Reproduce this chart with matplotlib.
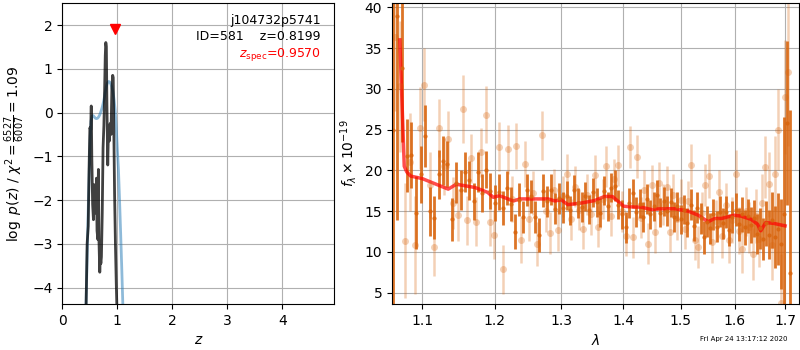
import numpy as np
import matplotlib
matplotlib.use("Agg")
import matplotlib.pyplot as plt
from matplotlib.ticker import FixedLocator, FixedFormatter, NullLocator

# --- p(z) panel ---
z_grid = [0.43, 0.45, 0.47, 0.485, 0.50, 0.515, 0.525, 0.535, 0.55, 0.565, 0.58, 0.595,
          0.61, 0.62, 0.63, 0.645, 0.655, 0.665, 0.68, 0.69, 0.70, 0.71, 0.725, 0.74,
          0.755, 0.765, 0.78, 0.79, 0.80, 0.81, 0.825, 0.84, 0.855, 0.87, 0.885, 0.90,
          0.915, 0.925, 0.935, 0.95, 0.965, 0.98, 0.995]
logpz = [-4.5, -3.0, -2.6, -1.3, -0.35, -0.4, 0.15, -1.0, -2.1, -2.45, -1.65, -1.9,
         -2.3, -1.5, -2.7, -2.9, -1.3, -2.9, -3.65, -3.3, -3.45, -3.3, -2.3, -0.8,
         -0.3, 0.3, 1.3, 1.6, 1.5, 0.2, -1.2, -0.3, -0.65, -0.25, -0.5, 0.55,
         0.85, 0.8, -0.3, -1.9, -3.0, -3.9, -4.6]

z_smooth = [0.43, 0.45, 0.474, 0.49, 0.505, 0.52, 0.54, 0.56, 0.58, 0.60, 0.62, 0.64,
            0.66, 0.68, 0.70, 0.72, 0.74, 0.76, 0.78, 0.80, 0.82, 0.84, 0.86, 0.88,
            0.90, 0.92, 0.94, 0.96, 0.98, 1.00, 1.02, 1.04, 1.06, 1.08, 1.10]
logpz_smooth = [-4.4, -3.3, -2.0, -1.3, -0.6, -0.2, -0.08, -0.07, -0.1, -0.13, -0.14, -0.13,
                -0.1, -0.05, 0.02, 0.1, 0.2, 0.32, 0.47, 0.6, 0.68, 0.71, 0.7, 0.66,
                0.58, 0.47, 0.3, 0.06, -0.35, -0.85, -1.3, -2.0, -2.76, -3.55, -4.4]

z_spec = 0.9570
z_phot = 0.8199
obj_root = "j104732p5741"
obj_id = 581
chi2_num, chi2_den = 6527, 6007

# --- spectrum panel ---
wave_dark = [1.062, 1.068, 1.074, 1.080, 1.086, 1.092, 1.098, 1.104, 1.110, 1.116, 1.122,
             1.128, 1.134, 1.140, 1.146, 1.152, 1.158, 1.164, 1.170, 1.176, 1.182, 1.188,
             1.194, 1.200, 1.206, 1.212, 1.218, 1.224, 1.230, 1.236, 1.242, 1.248, 1.254,
             1.260, 1.266, 1.272, 1.278, 1.284, 1.290, 1.296, 1.302, 1.308, 1.314, 1.320,
             1.326, 1.332, 1.338, 1.344, 1.350, 1.356, 1.362, 1.368, 1.374, 1.380, 1.386,
             1.392, 1.398, 1.404, 1.410, 1.416, 1.422, 1.428, 1.434, 1.440, 1.446, 1.452,
             1.458, 1.464, 1.470, 1.476, 1.482, 1.488, 1.494, 1.500, 1.506, 1.512, 1.518,
             1.524, 1.530, 1.536, 1.542, 1.548, 1.554, 1.560, 1.566, 1.572, 1.578, 1.584,
             1.590, 1.596, 1.602, 1.608, 1.614, 1.620, 1.626, 1.632, 1.638, 1.644, 1.650,
             1.656, 1.662, 1.668, 1.674, 1.680, 1.686, 1.692, 1.698, 1.704, 1.710]
flux_dark = [25.0, 38.9, 32.5, 21.8, 21.9, 14.8, 19.5, 24.2, 15.0, 14.2, 19.5,
             21.2, 20.8, 14.0, 18.5, 17.6, 19.8, 18.8, 16.2, 19.8, 17.2, 20.1,
             17.5, 16.0, 17.3, 15.4, 17.8, 15.9, 12.5, 16.4, 14.3, 17.6, 16.8,
             14.3, 12.1, 17.5, 16.2, 17.6, 15.3, 16.6, 15.4, 16.9, 15.1, 17.6,
             16.0, 15.5, 16.8, 15.2, 17.3, 16.1, 14.8, 17.5, 15.6, 17.9, 18.1,
             15.8, 14.6, 13.0, 16.0, 17.2, 14.9, 15.9, 14.3, 16.5, 14.6, 15.6,
             17.0, 14.8, 16.2, 15.0, 16.1, 14.3, 15.6, 14.0, 15.2, 13.6, 15.8,
             13.2, 15.4, 14.1, 11.8, 13.7, 12.9, 14.6, 13.1, 14.9, 13.5, 14.9,
             12.7, 14.3, 15.2, 13.4, 14.6, 13.0, 14.4, 13.3, 14.1, 12.2, 12.9,
             11.6, 13.5, 12.1, 13.9, 11.8, 12.8, 11.0, 14.6, 25.8, 7.4]
err_dark = [30.0, 25.0, 9.0, 4.5, 4.0, 4.5, 3.5, 3.8, 3.0, 2.6, 3.0,
            3.0, 2.8, 2.6, 2.5, 2.5, 2.5, 2.4, 2.3, 2.4, 2.3, 2.3,
            2.2, 2.2, 2.2, 2.1, 2.1, 2.1, 2.2, 2.0, 2.0, 2.0, 2.0,
            2.0, 2.1, 2.0, 1.9, 1.9, 1.9, 1.9, 1.9, 1.8, 1.8, 1.8,
            1.8, 1.8, 1.8, 1.8, 1.8, 1.8, 1.8, 1.8, 1.8, 1.8, 1.9,
            1.8, 1.8, 1.9, 1.8, 1.8, 1.8, 1.8, 1.8, 1.8, 1.8, 1.8,
            1.8, 1.8, 1.8, 1.8, 1.8, 1.8, 1.8, 1.8, 1.8, 1.8, 1.9,
            1.9, 1.9, 1.9, 2.0, 1.9, 1.9, 1.9, 1.9, 1.9, 1.9, 2.0,
            2.0, 2.0, 2.0, 2.0, 2.1, 2.1, 2.1, 2.2, 2.3, 2.4, 2.5,
            2.6, 2.8, 3.0, 3.4, 3.8, 4.4, 5.5, 12.0, 10.0, 20.0]

wave_light = [1.065, 1.071, 1.078, 1.084, 1.091, 1.097, 1.103, 1.110, 1.116, 1.123, 1.129,
              1.135, 1.142, 1.148, 1.155, 1.161, 1.167, 1.174, 1.180, 1.187, 1.193, 1.199,
              1.206, 1.212, 1.219, 1.225, 1.231, 1.238, 1.244, 1.251, 1.257, 1.263, 1.270,
              1.276, 1.283, 1.289, 1.295, 1.302, 1.308, 1.315, 1.321, 1.327, 1.334, 1.340,
              1.347, 1.353, 1.359, 1.366, 1.372, 1.379, 1.385, 1.391, 1.398, 1.404, 1.411,
              1.417, 1.423, 1.430, 1.436, 1.443, 1.449, 1.455, 1.462, 1.468, 1.475, 1.481,
              1.487, 1.494, 1.500, 1.507, 1.513, 1.519, 1.526, 1.532, 1.539, 1.545, 1.551,
              1.558, 1.564, 1.571, 1.577, 1.583, 1.590, 1.596, 1.603, 1.609, 1.615, 1.622,
              1.628, 1.635, 1.641, 1.647, 1.654, 1.660, 1.667, 1.673, 1.679, 1.686, 1.692,
              1.699, 1.705]
flux_light = [36.3, 30.3, 11.4, 21.0, 10.9, 25.2, 30.5, 18.2, 10.6, 25.2, 20.5,
              23.8, 16.0, 14.5, 27.5, 13.9, 21.5, 13.7, 22.2, 26.8, 13.7, 12.1,
              22.9, 7.9, 22.6, 16.5, 23.0, 11.5, 20.8, 14.0, 17.2, 11.0, 24.3,
              15.0, 12.3, 17.6, 12.7, 16.8, 19.5, 14.0, 18.0, 15.2, 12.8, 17.0,
              14.6, 19.4, 13.1, 16.5, 20.5, 14.4, 18.9, 20.6, 15.0, 12.0, 22.9,
              11.8, 21.7, 14.2, 17.6, 11.0, 18.2, 12.4, 18.5, 15.8, 18.0, 12.5,
              17.0, 14.0, 16.4, 12.8, 16.2, 20.6, 11.5, 10.6, 14.8, 18.2, 19.3,
              11.2, 13.8, 17.4, 12.0, 15.8, 11.5, 13.9, 19.6, 12.6, 10.4, 15.0,
              13.0, 9.7, 14.4, 11.6, 16.0, 20.4, 18.3, 10.8, 19.6, 25.0, 3.8,
              29.0, 32.0]
err_light = [9.0, 8.0, 7.0, 6.0, 6.0, 5.0, 4.5, 4.0, 3.5, 3.5, 3.5,
             3.5, 3.2, 3.2, 4.2, 3.0, 3.0, 3.0, 3.0, 3.5, 3.0, 3.0,
             3.0, 3.0, 3.0, 2.8, 2.8, 2.8, 2.8, 2.7, 2.7, 2.7, 3.0,
             2.6, 2.6, 2.6, 2.6, 2.5, 2.5, 2.5, 2.5, 2.5, 2.5, 2.5,
             2.5, 2.5, 2.5, 2.5, 2.5, 2.5, 2.5, 2.5, 2.5, 2.5, 2.6,
             2.5, 2.6, 2.5, 2.5, 2.5, 2.5, 2.5, 2.5, 2.5, 2.5, 2.5,
             2.5, 2.5, 2.5, 2.5, 2.5, 2.6, 2.5, 2.6, 2.5, 2.6, 2.7,
             2.6, 2.6, 2.7, 2.7, 2.7, 2.8, 2.8, 2.9, 2.9, 3.0, 3.0,
             3.1, 3.2, 3.3, 3.4, 3.6, 3.8, 4.0, 4.3, 4.6, 5.0, 6.0,
             7.0, 9.0]

wave_model = [1.071, 1.0767, 1.080, 1.085, 1.1, 1.116, 1.135, 1.146, 1.172, 1.19, 1.198,
              1.207, 1.227, 1.237, 1.2795, 1.29, 1.2995, 1.3101, 1.3315, 1.3529, 1.369,
              1.382, 1.401, 1.419, 1.43, 1.448, 1.465, 1.4894, 1.5135, 1.532, 1.55,
              1.5626, 1.575, 1.5994, 1.612, 1.632, 1.6448, 1.651, 1.661, 1.677, 1.70]
flux_model = [36.0, 20.5, 19.8, 19.3, 19.0, 18.4, 17.7, 18.3, 17.9, 17.3, 16.7,
              16.9, 16.25, 16.5, 16.5, 16.25, 16.4, 15.8, 16.0, 16.3, 16.8,
              16.8, 15.6, 15.5, 15.5, 15.2, 15.3, 15.3, 15.0, 14.5, 13.7,
              14.1, 14.1, 14.5, 14.4, 14.0, 13.4, 12.6, 13.6, 13.5, 13.2]

wave_ticks = [1.1, 1.2, 1.3, 1.4, 1.5, 1.6, 1.7]
spec_color = "#d9660f"

fig = plt.figure(figsize=(8, 3.5), dpi=100)
ax_pz = fig.add_axes([0.078, 0.131, 0.340, 0.860])
ax_sp = fig.add_axes([0.490, 0.131, 0.509, 0.860])

# p(z): raw (black) and smoothed (blue)
ax_pz.plot(z_smooth, logpz_smooth, color="#1f77b4", alpha=0.5, lw=2)
ax_pz.plot(z_grid, logpz, color="k", alpha=0.75, lw=2)
ax_pz.plot([z_spec], [max(logpz) + 0.3], marker="v", color="red", ms=7, ls="none")

ax_pz.set_xlim(0, 4.95)
ax_pz.set_ylim(-4.38, 2.5)
ax_pz.set_xticks([0, 1, 2, 3, 4])
ax_pz.set_yticks([-4, -3, -2, -1, 0, 1, 2])
ax_pz.grid(True)
ax_pz.set_xlabel(r"$z$")
chi2 = chi2_num / chi2_den
ax_pz.set_ylabel(r"$\log\ p(z)$" + " / " +
                 r"$\chi^2=\frac{%d}{%d}=%.2f$" % (chi2_num, chi2_den, chi2))

ax_pz.text(0.95, 0.965, "%s\nID=%d    z=%.4f" % (obj_root, obj_id, z_phot),
           transform=ax_pz.transAxes, ha="right", va="top", fontsize=9,
           linespacing=1.3)
ax_pz.text(0.95, 0.828, r"$z_\mathrm{spec}$=%.4f" % z_spec,
           transform=ax_pz.transAxes, ha="right", va="center", fontsize=9,
           color="red")

# spectrum: light and dark extractions plus model
ax_sp.errorbar(wave_light, flux_light, yerr=err_light, color=spec_color, alpha=0.3,
               marker="o", ms=5, ls="none", elinewidth=1.8, mec="none")
ax_sp.errorbar(wave_dark, flux_dark, yerr=err_dark, color=spec_color, alpha=0.9,
               marker="o", ms=3, ls="none", elinewidth=2.0, mec="none")
ax_sp.plot(wave_model, flux_model, color="red", alpha=0.7, lw=2.5)

ax_sp.set_xscale("log")
ax_sp.xaxis.set_major_locator(FixedLocator(wave_ticks))
ax_sp.xaxis.set_major_formatter(FixedFormatter(["%.1f" % w for w in wave_ticks]))
ax_sp.xaxis.set_minor_locator(NullLocator())
ax_sp.set_xlim(1.061, 1.729)
ax_sp.set_ylim(3.6, 40.5)
ax_sp.set_yticks([5, 10, 15, 20, 25, 30, 35, 40])
ax_sp.grid(True)
ax_sp.set_xlabel(r"$\lambda$")
ax_sp.set_ylabel(r"$f_\lambda\times10^{-19}$")

fig.text(0.984, 0.022, "Fri Apr 24 13:17:12 2020", ha="right", va="bottom", fontsize=5)

fig.savefig("out.png", dpi=100)
